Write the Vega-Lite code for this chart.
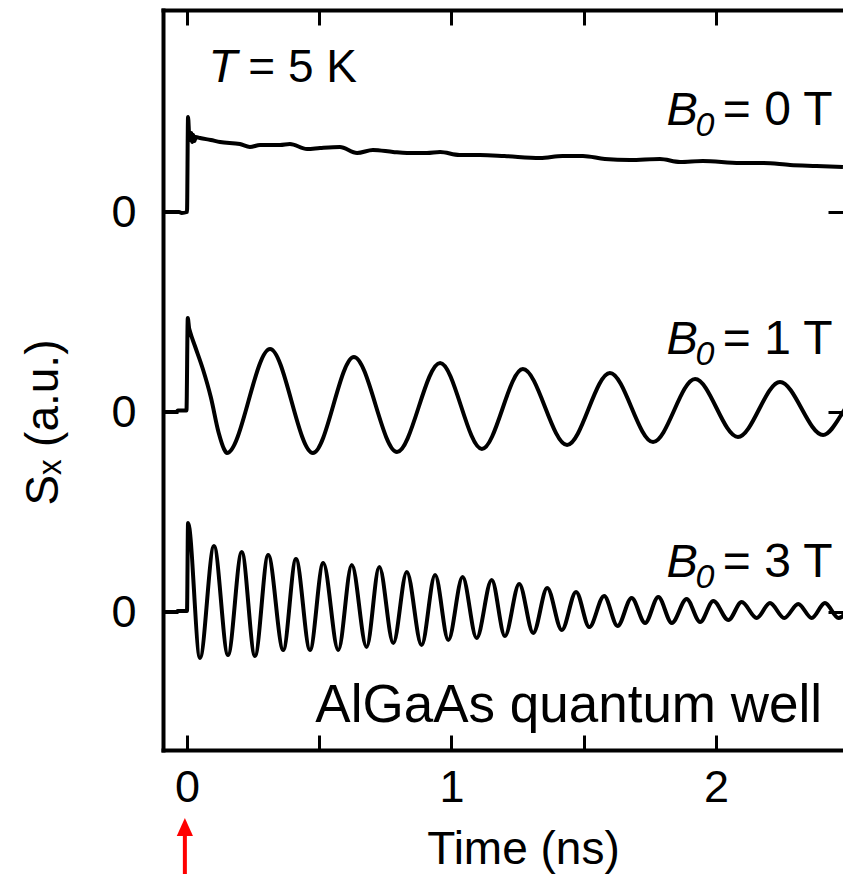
{
  "$schema": "https://vega.github.io/schema/vega-lite/v6.json",
  "width": 680,
  "height": 740,
  "autosize": {"type": "none"},
  "padding": {"left": 163, "top": 10, "right": 0, "bottom": 124},
  "background": "white",
  "config": {
    "font": "Liberation Sans",
    "view": {"stroke": null},
    "axis": {
      "domainColor": "black", "tickColor": "black", "labelColor": "black", "titleColor": "black",
      "domainWidth": 4, "tickWidth": 3, "grid": false, "domainCap": "square",
      "labelFont": "Liberation Sans", "titleFont": "Liberation Sans", "titleFontWeight": "normal",
      "labelFlush": false, "labelOverlap": false
    }
  },
  "datasets": {
    "traces": [
      {"series": "0T", "t": -0.091, "s": 4.0}, {"series": "0T", "t": -0.03, "s": 4.0}, {"series": "0T", "t": -0.02, "s": 3.99}, {"series": "0T", "t": 0.0, "s": 4.0},
      {"series": "0T", "t": 0.004, "s": 4.95}, {"series": "0T", "t": 0.008, "s": 4.78}, {"series": "0T", "t": 0.012, "s": 4.72}, {"series": "0T", "t": 0.016, "s": 4.79},
      {"series": "0T", "t": 0.02, "s": 4.70}, {"series": "0T", "t": 0.024, "s": 4.77}, {"series": "0T", "t": 0.028, "s": 4.71}, {"series": "0T", "t": 0.033, "s": 4.75},
      {"series": "0T", "t": 0.049, "s": 4.74}, {"series": "0T", "t": 0.09, "s": 4.72}, {"series": "0T", "t": 0.125, "s": 4.70}, {"series": "0T", "t": 0.2, "s": 4.68},
      {"series": "0T", "t": 0.238, "s": 4.65}, {"series": "0T", "t": 0.276, "s": 4.67}, {"series": "0T", "t": 0.352, "s": 4.67}, {"series": "0T", "t": 0.389, "s": 4.68},
      {"series": "0T", "t": 0.454, "s": 4.63}, {"series": "0T", "t": 0.503, "s": 4.64}, {"series": "0T", "t": 0.578, "s": 4.65}, {"series": "0T", "t": 0.643, "s": 4.59},
      {"series": "0T", "t": 0.703, "s": 4.62}, {"series": "0T", "t": 0.779, "s": 4.60}, {"series": "0T", "t": 0.832, "s": 4.59}, {"series": "0T", "t": 0.907, "s": 4.59},
      {"series": "0T", "t": 0.957, "s": 4.60}, {"series": "0T", "t": 1.03, "s": 4.57}, {"series": "0T", "t": 1.108, "s": 4.57}, {"series": "0T", "t": 1.2, "s": 4.56},
      {"series": "0T", "t": 1.335, "s": 4.54}, {"series": "0T", "t": 1.42, "s": 4.56}, {"series": "0T", "t": 1.497, "s": 4.56}, {"series": "0T", "t": 1.58, "s": 4.53},
      {"series": "0T", "t": 1.675, "s": 4.52}, {"series": "0T", "t": 1.788, "s": 4.53}, {"series": "0T", "t": 1.864, "s": 4.50}, {"series": "0T", "t": 1.95, "s": 4.51},
      {"series": "0T", "t": 2.091, "s": 4.49}, {"series": "0T", "t": 2.18, "s": 4.49}, {"series": "0T", "t": 2.28, "s": 4.47}, {"series": "0T", "t": 2.38, "s": 4.46},
      {"series": "0T", "t": 2.48, "s": 4.45},

      {"series": "1T", "t": -0.091, "s": 2.0}, {"series": "1T", "t": -0.04, "s": 2.0}, {"series": "1T", "t": -0.035, "s": 2.015}, {"series": "1T", "t": -0.002, "s": 2.015},
      {"series": "1T", "t": 0.003, "s": 2.94}, {"series": "1T", "t": 0.008, "s": 2.84}, {"series": "1T", "t": 0.012, "s": 2.80}, {"series": "1T", "t": 0.03, "s": 2.66},
      {"series": "1T", "t": 0.06, "s": 2.43}, {"series": "1T", "t": 0.09, "s": 2.15}, {"series": "1T", "t": 0.12, "s": 1.79}, {"series": "1T", "t": 0.14, "s": 1.63},
      {"series": "1T", "t": 0.151, "s": 1.59},
      {"series": "1T", "t": 0.314, "s": 2.63}, {"series": "1T", "t": 0.476, "s": 1.59}, {"series": "1T", "t": 0.631, "s": 2.55}, {"series": "1T", "t": 0.794, "s": 1.60},
      {"series": "1T", "t": 0.957, "s": 2.49}, {"series": "1T", "t": 1.115, "s": 1.63}, {"series": "1T", "t": 1.270, "s": 2.43}, {"series": "1T", "t": 1.437, "s": 1.67},
      {"series": "1T", "t": 1.599, "s": 2.39}, {"series": "1T", "t": 1.762, "s": 1.70}, {"series": "1T", "t": 1.921, "s": 2.33}, {"series": "1T", "t": 2.083, "s": 1.75},
      {"series": "1T", "t": 2.242, "s": 2.30}, {"series": "1T", "t": 2.405, "s": 1.77}, {"series": "1T", "t": 2.485, "s": 2.02}, {"series": "1T", "t": 2.525, "s": 2.2},

      {"series": "3T", "t": -0.091, "s": 0.0}, {"series": "3T", "t": -0.04, "s": 0.0}, {"series": "3T", "t": -0.035, "s": 0.01}, {"series": "3T", "t": 0.0, "s": 0.01},
      {"series": "3T", "t": 0.004, "s": 0.89}, {"series": "3T", "t": 0.049, "s": -0.46}, {"series": "3T", "t": 0.102, "s": 0.66}, {"series": "3T", "t": 0.155, "s": -0.43},
      {"series": "3T", "t": 0.207, "s": 0.60}, {"series": "3T", "t": 0.257, "s": -0.44}, {"series": "3T", "t": 0.307, "s": 0.57}, {"series": "3T", "t": 0.364, "s": -0.38},
      {"series": "3T", "t": 0.412, "s": 0.53}, {"series": "3T", "t": 0.465, "s": -0.38}, {"series": "3T", "t": 0.515, "s": 0.49}, {"series": "3T", "t": 0.572, "s": -0.38},
      {"series": "3T", "t": 0.623, "s": 0.47}, {"series": "3T", "t": 0.679, "s": -0.35}, {"series": "3T", "t": 0.727, "s": 0.45}, {"series": "3T", "t": 0.780, "s": -0.31},
      {"series": "3T", "t": 0.831, "s": 0.40}, {"series": "3T", "t": 0.887, "s": -0.33}, {"series": "3T", "t": 0.938, "s": 0.37}, {"series": "3T", "t": 0.988, "s": -0.28},
      {"series": "3T", "t": 1.042, "s": 0.35}, {"series": "3T", "t": 1.095, "s": -0.26}, {"series": "3T", "t": 1.152, "s": 0.32}, {"series": "3T", "t": 1.202, "s": -0.24},
      {"series": "3T", "t": 1.256, "s": 0.28}, {"series": "3T", "t": 1.309, "s": -0.21}, {"series": "3T", "t": 1.362, "s": 0.24}, {"series": "3T", "t": 1.417, "s": -0.18},
      {"series": "3T", "t": 1.471, "s": 0.20}, {"series": "3T", "t": 1.521, "s": -0.15}, {"series": "3T", "t": 1.577, "s": 0.16}, {"series": "3T", "t": 1.628, "s": -0.14},
      {"series": "3T", "t": 1.681, "s": 0.14}, {"series": "3T", "t": 1.732, "s": -0.11}, {"series": "3T", "t": 1.782, "s": 0.15}, {"series": "3T", "t": 1.833, "s": -0.11},
      {"series": "3T", "t": 1.889, "s": 0.13}, {"series": "3T", "t": 1.940, "s": -0.10}, {"series": "3T", "t": 1.990, "s": 0.11}, {"series": "3T", "t": 2.047, "s": -0.08},
      {"series": "3T", "t": 2.097, "s": 0.10}, {"series": "3T", "t": 2.154, "s": -0.06}, {"series": "3T", "t": 2.204, "s": 0.09}, {"series": "3T", "t": 2.258, "s": -0.06},
      {"series": "3T", "t": 2.311, "s": 0.08}, {"series": "3T", "t": 2.362, "s": -0.06}, {"series": "3T", "t": 2.412, "s": 0.09}, {"series": "3T", "t": 2.463, "s": -0.06},
      {"series": "3T", "t": 2.515, "s": 0.08}
    ]
  },
  "layer": [
    {
      "data": {"name": "traces"},
      "mark": {"type": "line", "interpolate": "monotone", "color": "black", "strokeWidth": 4, "clip": true, "strokeJoin": "round"},
      "encoding": {
        "x": {"field": "t", "type": "quantitative", "scale": {"domain": [-0.0907, 2.4802], "nice": false, "zero": false},
          "axis": {"orient": "bottom", "values": [0, 0.5, 1, 1.5, 2], "tickSize": -15, "labelFontSize": 45, "labelPadding": 30,
            "labelExpr": "(datum.value % 1) ? '' : format(datum.value, 'd')",
            "title": "Time (ns)", "titleFontSize": 46, "titleBaseline": "alphabetic", "titleX": 360, "titleY": 113}},
        "y": {"field": "s", "type": "quantitative", "scale": {"domain": [-1.38, 6.02], "nice": false, "zero": false},
          "axis": {"orient": "left", "values": [0, 2, 4], "tickSize": -15, "labelFontSize": 45, "labelPadding": 42,
            "labelExpr": "'0'",
            "title": "Sₓ (a.u.)", "titleFontSize": 46, "titleAngle": 270, "titleBaseline": "alphabetic", "titleAlign": "center", "titleX": -106, "titleY": 412}},
        "detail": {"field": "series", "type": "nominal"}
      }
    },
    {
      "data": {"values": [
        {"txt": "T", "t": 0.081, "s": 5.30},
        {"txt": "B", "t": 1.813, "s": 4.87},
        {"txt": "B", "t": 1.813, "s": 2.58},
        {"txt": "B", "t": 1.813, "s": 0.35}
      ]},
      "mark": {"type": "text", "fontStyle": "italic", "fontSize": 47, "align": "left", "baseline": "alphabetic", "color": "black"},
      "encoding": {
        "x": {"field": "t", "type": "quantitative", "scale": {"domain": [-0.0907, 2.4802], "nice": false, "zero": false},
          "axis": {"orient": "top", "values": [0, 0.5, 1, 1.5, 2], "tickSize": -15, "labels": false, "title": null}},
        "y": {"field": "s", "type": "quantitative", "scale": {"domain": [-1.38, 6.02], "nice": false, "zero": false},
          "axis": {"orient": "right", "values": [0, 2, 4], "tickSize": -15, "labels": false, "title": null, "domain": false}},
        "text": {"field": "txt"}
      }
    },
    {
      "data": {"values": [
        {"txt": "0", "t": 1.923, "s": 4.76},
        {"txt": "0", "t": 1.923, "s": 2.47},
        {"txt": "0", "t": 1.923, "s": 0.24}
      ]},
      "mark": {"type": "text", "fontStyle": "italic", "fontSize": 34, "align": "left", "baseline": "alphabetic", "color": "black"},
      "encoding": {
        "x": {"field": "t", "type": "quantitative", "axis": null},
        "y": {"field": "s", "type": "quantitative", "axis": null},
        "text": {"field": "txt"}
      }
    },
    {
      "data": {"values": [
        {"txt": "= 5 K", "t": 0.643, "s": 5.30}
      ]},
      "mark": {"type": "text", "fontSize": 46, "align": "right", "baseline": "alphabetic", "color": "black"},
      "encoding": {
        "x": {"field": "t", "type": "quantitative", "axis": null},
        "y": {"field": "s", "type": "quantitative", "axis": null},
        "text": {"field": "txt"}
      }
    },
    {
      "data": {"values": [
        {"txt": "= 0 T", "t": 2.441, "s": 4.87},
        {"txt": "= 1 T", "t": 2.441, "s": 2.58},
        {"txt": "= 3 T", "t": 2.441, "s": 0.35}
      ]},
      "mark": {"type": "text", "fontSize": 48, "align": "right", "baseline": "alphabetic", "color": "black"},
      "encoding": {
        "x": {"field": "t", "type": "quantitative", "axis": null},
        "y": {"field": "s", "type": "quantitative", "axis": null},
        "text": {"field": "txt"}
      }
    },
    {
      "data": {"values": [
        {"txt": "AlGaAs quantum well", "t": 2.401, "s": -1.10}
      ]},
      "mark": {"type": "text", "fontSize": 53, "align": "right", "baseline": "alphabetic", "color": "black"},
      "encoding": {
        "x": {"field": "t", "type": "quantitative", "axis": null},
        "y": {"field": "s", "type": "quantitative", "axis": null},
        "text": {"field": "txt"}
      }
    },
    {
      "data": {"values": [{"t": -0.008, "s": -2.22, "s2": -2.70}]},
      "mark": {"type": "rule", "color": "#ff0000", "strokeWidth": 4, "clip": false},
      "encoding": {
        "x": {"field": "t", "type": "quantitative", "axis": null},
        "y": {"field": "s", "type": "quantitative", "axis": null},
        "y2": {"field": "s2"}
      }
    },
    {
      "data": {"values": [{"t": -0.008, "s": -2.15}]},
      "mark": {"type": "point", "shape": "M-0.9,1L0,-1L0.9,1Z", "size": 324, "filled": true, "color": "#ff0000", "opacity": 1, "clip": false},
      "encoding": {
        "x": {"field": "t", "type": "quantitative", "axis": null},
        "y": {"field": "s", "type": "quantitative", "axis": null}
      }
    }
  ],
  "resolve": {"axis": {"x": "independent", "y": "independent"}}
}
